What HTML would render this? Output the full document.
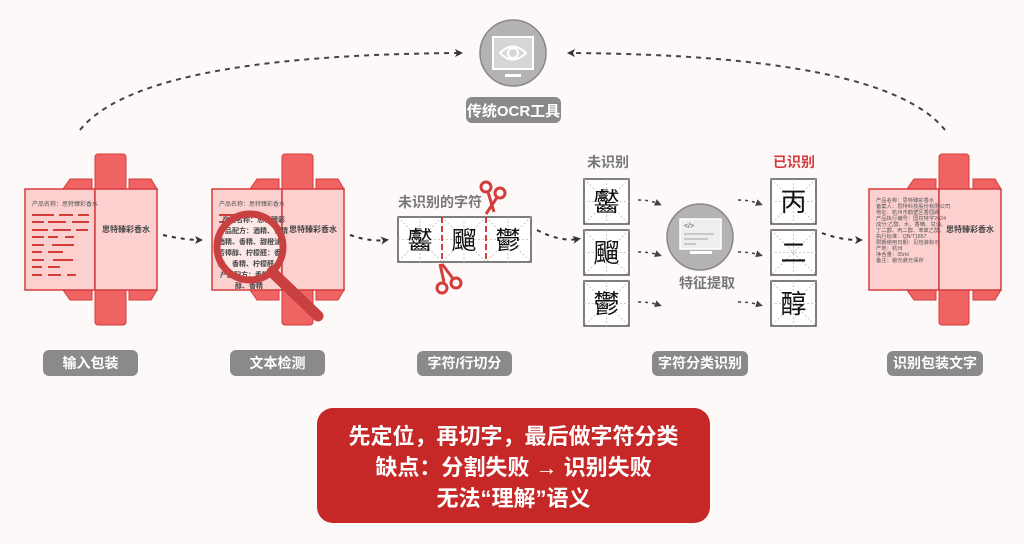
<!DOCTYPE html>
<html><head><meta charset="utf-8"><style>
html,body{margin:0;padding:0;background:#fdf9f8;}
svg{display:block;font-family:"Liberation Sans","Noto Sans CJK SC",sans-serif;}
</style></head><body>
<svg width="1024" height="544" viewBox="0 0 1024 544" xmlns="http://www.w3.org/2000/svg">
<defs>
<marker id="ah" markerWidth="8" markerHeight="8" refX="5" refY="4" orient="auto" markerUnits="userSpaceOnUse"><path d="M0,0 L8,4 L0,8 L2,4 Z" fill="#333"/></marker>
<marker id="ah2" markerWidth="7" markerHeight="7" refX="4" refY="3.5" orient="auto" markerUnits="userSpaceOnUse"><path d="M0,0 L7,3.5 L0,7 Z" fill="#444"/></marker>
</defs>
<rect width="1024" height="544" fill="#fdf9f8"/>

<!-- top arcs -->
<path d="M80,130 Q140,55 460,53" fill="none" stroke="#444" stroke-width="2" stroke-dasharray="5,5" marker-end="url(#ah)"/>
<path d="M945,130 Q885,55 570,53" fill="none" stroke="#444" stroke-width="2" stroke-dasharray="5,5" marker-end="url(#ah)"/>

<!-- OCR tool -->
<circle cx="513" cy="53" r="33" fill="#b5b3b2" stroke="#888" stroke-width="1.5"/>
<rect x="493" y="37" width="40" height="32" fill="#d8d6d5" stroke="#fff" stroke-width="2"/>
<path d="M500,53 Q513,40 526,53 Q513,66 500,53 Z" fill="none" stroke="#fff" stroke-width="2"/>
<circle cx="513" cy="53" r="5" fill="none" stroke="#fff" stroke-width="2"/>
<rect x="505" y="74" width="16" height="3" fill="#fff"/>
<rect x="466" y="97" width="95" height="26" rx="6" fill="#8a8a8a"/>
<text x="513.5" y="116" text-anchor="middle" font-size="15" font-weight="bold" fill="#fff">传统OCR工具</text>

<!-- package 1 -->
<g>
<rect x="95" y="154" width="31" height="40" rx="3" fill="#ef6363" stroke="#d53c3c"/>
<rect x="95" y="286" width="31" height="39" rx="3" fill="#ef6363" stroke="#d53c3c"/>
<path d="M70,179 L92,179 L92,189 L63,189 Z" fill="#ef6363" stroke="#d53c3c"/>
<path d="M129,179 L151,179 L157,189 L129,189 Z" fill="#ef6363" stroke="#d53c3c"/>
<path d="M63,290 L92,290 L92,300 L70,300 Z" fill="#ef6363" stroke="#d53c3c"/>
<path d="M129,290 L157,290 L151,300 L129,300 Z" fill="#ef6363" stroke="#d53c3c"/>
<rect x="25" y="189" width="70" height="101" fill="#fdd0d0" stroke="#d53c3c" stroke-width="1.5"/>
<rect x="95" y="189" width="62" height="101" fill="#fdd0d0" stroke="#d53c3c" stroke-width="1.5"/>
<text x="32" y="206" font-size="6" fill="#555">产品名称：思特臻彩香水</text>
<text x="126" y="232" text-anchor="middle" font-size="8" font-weight="bold" fill="#444">思特臻彩香水</text>
<g stroke="#d53c3c" stroke-width="2">
<path d="M32,215h22M59,215h14M78,215h11M32,222h12M48,222h18M72,222h17M32,230h16M53,230h18M76,230h12M32,237h12M48,237h10M65,237h9M32,245h12M52,245h22M32,252h10M48,252h15M32,260h12M53,260h20M32,267h10M48,267h12M32,275h10M48,275h13M67,275h9"/>
</g>
</g>

<path d="M163,235 Q185,240 200,240" fill="none" stroke="#333" stroke-width="2" stroke-dasharray="4,5" marker-end="url(#ah)"/>

<!-- package 2 -->
<g>
<rect x="282" y="154" width="31" height="40" rx="3" fill="#ef6363" stroke="#d53c3c"/>
<rect x="282" y="286" width="31" height="39" rx="3" fill="#ef6363" stroke="#d53c3c"/>
<path d="M257,179 L279,179 L279,189 L250,189 Z" fill="#ef6363" stroke="#d53c3c"/>
<path d="M316,179 L338,179 L344,189 L316,189 Z" fill="#ef6363" stroke="#d53c3c"/>
<path d="M250,290 L279,290 L279,300 L257,300 Z" fill="#ef6363" stroke="#d53c3c"/>
<path d="M316,290 L344,290 L338,300 L316,300 Z" fill="#ef6363" stroke="#d53c3c"/>
<rect x="212" y="189" width="70" height="101" fill="#fdd0d0" stroke="#d53c3c" stroke-width="1.5"/>
<rect x="282" y="189" width="62" height="101" fill="#fdd0d0" stroke="#d53c3c" stroke-width="1.5"/>
<text x="219" y="206" font-size="6" fill="#555">产品名称：思特臻彩香水</text>
<text x="313" y="232" text-anchor="middle" font-size="8" font-weight="bold" fill="#444">思特臻彩香水</text>
<path d="M219,215h20M219,222h12" stroke="#d53c3c" stroke-width="2"/>
<circle cx="250" cy="247" r="33" fill="#fde8e8"/>
<g font-size="7" font-weight="bold" fill="#444">
<text x="222" y="222">产品名称：思特臻彩</text>
<text x="218" y="233">产品配方：酒精、香精</text>
<text x="218" y="244">酒精、香精、甜橙油</text>
<text x="218" y="255">芳樟醇、柠檬醛：香</text>
<text x="218" y="266">醇、香精、柠檬醛</text>
<text x="220" y="277">产品配方：香精</text>
<text x="235" y="288">醇、香精</text>
</g>
<path d="M272,272 L318,316" stroke="#c94040" stroke-width="11" stroke-linecap="round"/>
<circle cx="250" cy="247" r="33" fill="none" stroke="#c94040" stroke-width="7"/>
</g>

<path d="M350,235 Q370,242 386,240" fill="none" stroke="#333" stroke-width="2" stroke-dasharray="4,5" marker-end="url(#ah)"/>

<!-- char strip -->
<text x="398" y="207" font-size="14" font-weight="bold" fill="#777">未识别的字符</text>
<rect x="398" y="217" width="133" height="45" fill="#fff" stroke="#555" stroke-width="1.5"/>
<g stroke="#bbb" stroke-width="0.8" stroke-dasharray="2,2">
<path d="M398,217L442,262M442,217L398,262M442,217L486,262M486,217L442,262M486,217L531,262M531,217L486,262M420,217V262M464,217V262M508,217V262M398,239.5H531"/>
</g>
<g font-size="25" fill="#111" text-anchor="middle">
<text x="420" y="249">齾</text><text x="464" y="249">飀</text><text x="508" y="249">鬱</text>
</g>
<path d="M442,217V262M486,217V262" stroke="#d53c3c" stroke-width="2" stroke-dasharray="6,3"/>
<g fill="none" stroke="#d53c3c" stroke-width="3">
<circle cx="486" cy="187" r="5"/><circle cx="500" cy="193" r="5"/>
<circle cx="442" cy="288" r="5"/><circle cx="456" cy="283" r="5"/>
</g>
<path d="M488,192 L494,212 M498,196 L486,214" stroke="#d53c3c" stroke-width="3"/>
<path d="M444,282 L440,264 M454,280 L442,264" stroke="#d53c3c" stroke-width="3"/>

<path d="M537,230 Q560,242 578,239" fill="none" stroke="#333" stroke-width="2" stroke-dasharray="4,5" marker-end="url(#ah)"/>

<!-- unrecognized column -->
<text x="587" y="167" font-size="14" font-weight="bold" fill="#777">未识别</text>
<g stroke="#555" stroke-width="1.5" fill="#fff">
<rect x="584" y="179" width="45" height="45"/><rect x="584" y="230" width="45" height="45"/><rect x="584" y="281" width="45" height="45"/>
<rect x="771" y="179" width="45" height="45"/><rect x="771" y="230" width="45" height="45"/><rect x="771" y="281" width="45" height="45"/>
</g>
<g stroke="#bbb" stroke-width="0.8" stroke-dasharray="2,2">
<path d="M584,179l45,45M629,179l-45,45M606.5,179v45M584,201.5h45 M584,230l45,45M629,230l-45,45M606.5,230v45M584,252.5h45 M584,281l45,45M629,281l-45,45M606.5,281v45M584,303.5h45"/>
<path d="M771,179l45,45M816,179l-45,45M793.5,179v45M771,201.5h45 M771,230l45,45M816,230l-45,45M793.5,230v45M771,252.5h45 M771,281l45,45M816,281l-45,45M793.5,281v45M771,303.5h45"/>
</g>
<g font-size="26" fill="#111" text-anchor="middle">
<text x="606.5" y="211">齾</text><text x="606.5" y="262">飀</text><text x="606.5" y="313">鬱</text>
<text x="793.5" y="211">丙</text><text x="793.5" y="262">二</text><text x="793.5" y="313">醇</text>
</g>
<text x="773" y="167" font-size="14" font-weight="bold" fill="#d53c3c">已识别</text>

<g fill="none" stroke="#444" stroke-width="1.5" stroke-dasharray="3,4" marker-end="url(#ah2)">
<path d="M638,200 Q650,200 659,204"/><path d="M638,252 Q650,252 659,255"/><path d="M638,302 Q650,302 659,305"/>
<path d="M738,200 Q750,200 760,204"/><path d="M738,252 Q750,252 760,255"/><path d="M738,302 Q750,302 760,305"/>
</g>

<!-- computer -->
<circle cx="700" cy="237" r="33" fill="#b5b3b2" stroke="#888" stroke-width="1.5"/>
<rect x="680" y="219" width="41" height="30" fill="#eee" stroke="#fff" stroke-width="1.5"/>
<text x="684" y="228" font-size="7" fill="#555">&lt;/&gt;</text>
<path d="M684,234h30M684,239h24M684,244h12" stroke="#bbb" stroke-width="1.5"/>
<rect x="690" y="251" width="22" height="3" fill="#fff"/>
<text x="707" y="288" text-anchor="middle" font-size="14" font-weight="bold" fill="#777">特征提取</text>

<path d="M822,233 Q840,240 860,240" fill="none" stroke="#333" stroke-width="2" stroke-dasharray="4,5" marker-end="url(#ah)"/>

<!-- package 3 -->
<g>
<rect x="939" y="154" width="30" height="40" rx="3" fill="#ef6363" stroke="#d53c3c"/>
<rect x="939" y="286" width="30" height="39" rx="3" fill="#ef6363" stroke="#d53c3c"/>
<path d="M914,179 L936,179 L936,189 L907,189 Z" fill="#ef6363" stroke="#d53c3c"/>
<path d="M973,179 L995,179 L1001,189 L973,189 Z" fill="#ef6363" stroke="#d53c3c"/>
<path d="M907,290 L936,290 L936,300 L914,300 Z" fill="#ef6363" stroke="#d53c3c"/>
<path d="M973,290 L1001,290 L995,300 L973,300 Z" fill="#ef6363" stroke="#d53c3c"/>
<rect x="869" y="189" width="70" height="101" fill="#fdd0d0" stroke="#d53c3c" stroke-width="1.5"/>
<rect x="939" y="189" width="62" height="101" fill="#fdd0d0" stroke="#d53c3c" stroke-width="1.5"/>
<g font-size="5.3" fill="#555">
<text x="876" y="202">产品名称：思特臻彩香水</text>
<text x="876" y="208">备案人：思特科技股份有限公司</text>
<text x="876" y="214">地址：杭州市鹤壁区香园路</text>
<text x="876" y="220">产品执行编号：国妆特字2024</text>
<text x="876" y="226">成分:乙醇、水、香精、甘油、</text>
<text x="876" y="232">丁二醇、丙二醇、苯氧乙醇、</text>
<text x="876" y="238">执行标准：QB/T1857</text>
<text x="876" y="244">限期使用日期：见包装标示</text>
<text x="876" y="250">产地：杭州</text>
<text x="876" y="256">净含量：35ml</text>
<text x="876" y="262">备注：避光避光保存</text>
</g>
<text x="970" y="232" text-anchor="middle" font-size="8" font-weight="bold" fill="#444">思特臻彩香水</text>
</g>

<!-- pills -->
<g fill="#8a8a8a">
<rect x="43" y="350" width="95" height="26" rx="6"/>
<rect x="230" y="350" width="95" height="26" rx="6"/>
<rect x="417" y="351" width="95" height="25" rx="6"/>
<rect x="652" y="351" width="96" height="25" rx="6"/>
<rect x="887" y="351" width="96" height="25" rx="6"/>
</g>
<g font-size="14" font-weight="bold" fill="#fff" text-anchor="middle">
<text x="90.5" y="368">输入包装</text>
<text x="277.5" y="368">文本检测</text>
<text x="464.5" y="368">字符/行切分</text>
<text x="700" y="368">字符分类识别</text>
<text x="935" y="368">识别包装文字</text>
</g>

<!-- red box -->
<rect x="317" y="408" width="393" height="115" rx="16" fill="#c62828"/>
<g font-size="22" font-weight="bold" fill="#fff" text-anchor="middle">
<text x="513.5" y="444">先定位，再切字，最后做字符分类</text>
<text x="513.5" y="475">缺点：分割失败 → 识别失败</text>
<text x="513.5" y="506">无法“理解”语义</text>
</g>
</svg>
</body></html>
